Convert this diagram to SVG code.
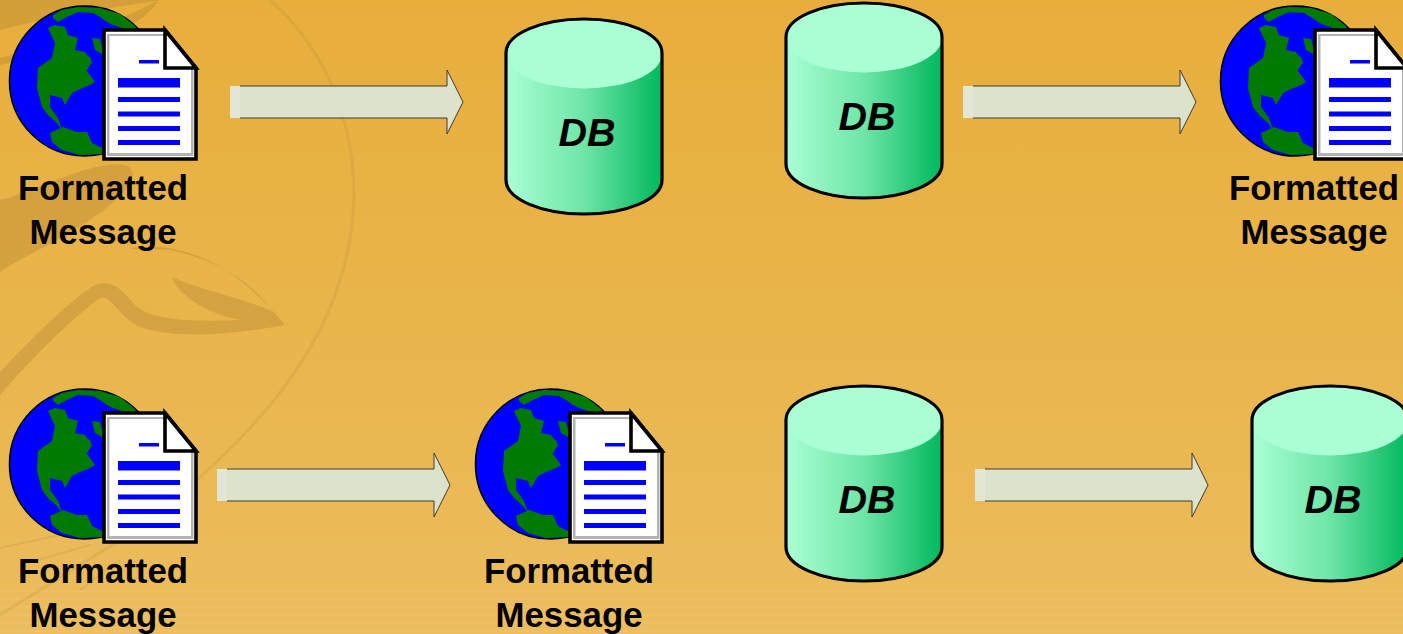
<svg xmlns="http://www.w3.org/2000/svg" xmlns:xlink="http://www.w3.org/1999/xlink" width="1403" height="634" viewBox="0 0 1403 634">
<style>
.lbl{font-family:"Liberation Sans",Arial,sans-serif;font-weight:700;font-size:34.8px;text-anchor:middle;fill:#000}
.db{font-family:"Liberation Sans",Arial,sans-serif;font-weight:700;font-style:italic;font-size:39.5px;text-anchor:middle;fill:#000}
.sw{fill:none;stroke:#a87a30;stroke-linecap:round}
</style>
<defs>
<linearGradient id="bg" x1="0" y1="0" x2="0" y2="1"><stop offset="0" stop-color="#e8ae3c"/><stop offset=".55" stop-color="#e9b54c"/><stop offset="1" stop-color="#ecbd5e"/></linearGradient>
<linearGradient id="cyl" x1="0" y1="0" x2="1" y2="0"><stop offset="0" stop-color="#aaffd4"/><stop offset=".5" stop-color="#6ee5a8"/><stop offset="1" stop-color="#00b85c"/></linearGradient>
<g id="msg">
<circle cx="84.5" cy="81" r="75" fill="#0000ff" stroke="#000" stroke-width="1.6"/>
<path fill="#007a00" d="M53 15L62 10L78 7L100 8L120 14L135 26L138 33L113 25L107 22L100 17L93 13L78 12L67 17L58 22L53 18Z"/>
<path fill="#007a00" d="M48 28L55 25L65 27L68 35L78 38L75 50L85 52L92 62L87 70L78 72L84 67L95 82L90 85L78 90L72 93L65 105L62 98L50 95L50 107L58 118L62 130L57 123L48 115L42 107L37 88L38 68L52 58L55 43Z"/>
<path fill="#007a00" d="M92 38L100 39L104 55L95 50Z"/>
<path fill="#007a00" d="M85 55L90 57L92 64L87 62Z"/>
<path fill="#007a00" d="M50 133L63 127L77 132L87 132L92 143L102 148L102 154L80 155L62 150L52 142Z"/>
<path d="M104 30H165L196 68V159H104Z" fill="#fff" stroke="#000" stroke-width="3.6" stroke-linejoin="miter"/>
<path d="M107 34H164V36H109.500V153H191V68H193.500V156H107Z" fill="#b2b2b2"/>
<path d="M165 30L196 68H165Z" fill="#fff" stroke="#000" stroke-width="3.6"/>
<rect x="139" y="60" width="20" height="3.500" fill="#0000ff"/>
<rect x="118" y="78" width="62" height="9.500" fill="#0000ff"/>
<rect x="118" y="97" width="62" height="5" fill="#0000ff"/>
<rect x="118" y="111.500" width="62" height="5" fill="#0000ff"/>
<rect x="118" y="126" width="62" height="5" fill="#0000ff"/>
<rect x="118" y="140" width="62" height="5" fill="#0000ff"/>
<text class="lbl" x="103" y="200">Formatted</text>
<text class="lbl" x="103" y="243.500">Message</text>
</g>
<g id="cylinder">
<path d="M506 53V180C506 199 541 214 584 214C627 214 662 199 662 180V53Z" fill="url(#cyl)"/>
<ellipse cx="584" cy="54" rx="78" ry="34.500" fill="#aaffd4"/>
<path d="M506 180V53C506 34 541 19 584 19C627 19 662 34 662 53V180C662 199 627 214 584 214C541 214 506 199 506 180Z" fill="none" stroke="#000" stroke-width="3.200"/>
<text class="db" x="587" y="146">DB</text>
</g>
<g id="arrow">
<path d="M230 86H447V70L463 102L447 134V118H230Z" fill="#dde2cc"/>
<rect x="230" y="86" width="10" height="32" fill="#e2e6d4"/>
<path d="M240 86H447V70L463 102L447 134V118H240" fill="none" stroke="#3c3c30" stroke-width="1"/>
</g>
</defs>
<g id="background">
<rect width="1403" height="634" fill="url(#bg)"/>
<g opacity=".3">
<path class="sw" stroke-width="0" fill="#a87a30" style="fill:#a87a30;stroke:none" d="M0 30C60 15 110 8 160 0H0ZM0 58C60 40 115 25 158 0C145 25 100 45 0 65Z"/>
<path style="fill:#a87a30;stroke:none" d="M0 200C40 190 90 160 125 165C150 175 110 210 70 232C50 245 20 258 0 272Z"/>
<path style="fill:#a87a30;stroke:none" d="M0 372C30 340 70 300 95 285C112 278 122 290 135 305C150 320 190 322 240 320C200 312 175 290 172 277C200 290 250 300 273 312C255 285 220 260 170 250C150 248 135 250 130 248C190 240 240 270 285 325C230 335 170 340 135 325C115 310 110 295 100 298C70 320 30 360 0 395Z"/>
</g>
<g class="sw" opacity=".16">
<path stroke-width="3" d="M270 0C340 60 375 170 340 280C310 380 220 470 120 540C80 565 40 590 0 615"/>
<path stroke-width="2" d="M0 548L60 535M20 565L90 545M120 560L80 590"/>
</g>
<g fill="#fff" opacity=".05">
<rect y="590" width="1403" height="2"/><rect y="598" width="1403" height="2"/><rect y="606" width="1403" height="2"/><rect y="614" width="1403" height="2"/><rect y="622" width="1403" height="2"/><rect y="630" width="1403" height="2"/>
</g>
</g>
<g id="connectors">
<use xlink:href="#arrow" href="#arrow"/>
<use xlink:href="#arrow" href="#arrow" x="733"/>
<use xlink:href="#arrow" href="#arrow" x="-13" y="383"/>
<use xlink:href="#arrow" href="#arrow" x="745" y="383"/>
</g>
<g id="node-msg-1"><use xlink:href="#msg" href="#msg"/></g>
<g id="node-db-1"><use xlink:href="#cylinder" href="#cylinder"/></g>
<g id="node-db-2"><use xlink:href="#cylinder" href="#cylinder" x="280" y="-16"/></g>
<g id="node-msg-2"><use xlink:href="#msg" href="#msg" x="1211"/></g>
<g id="node-msg-3"><use xlink:href="#msg" href="#msg" y="383"/></g>
<g id="node-msg-4"><use xlink:href="#msg" href="#msg" x="466" y="383"/></g>
<g id="node-db-3"><use xlink:href="#cylinder" href="#cylinder" x="280" y="367"/></g>
<g id="node-db-4"><use xlink:href="#cylinder" href="#cylinder" x="746" y="367"/></g>
</svg>
